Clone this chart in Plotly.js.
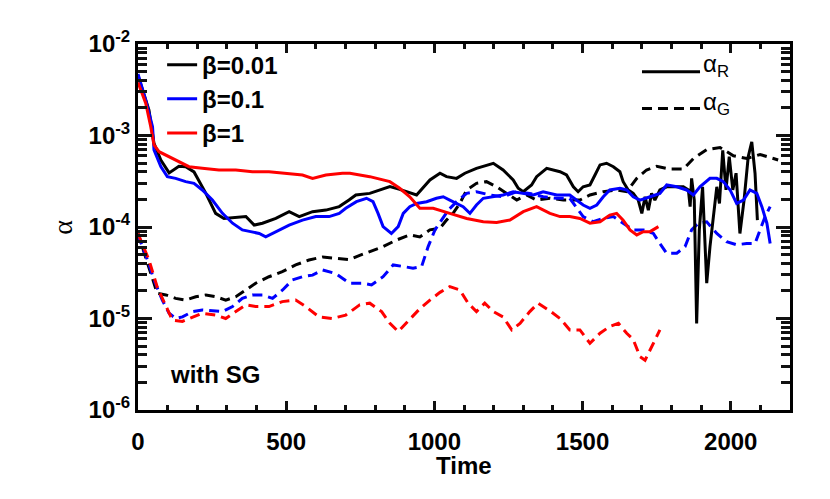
<!DOCTYPE html>
<html>
<head>
<meta charset="utf-8">
<script src="https://cdn.plot.ly/plotly-3.0.1.min.js"></script>
<style>html,body{margin:0;padding:0;background:#fff;}#chart{width:830px;height:499px;}</style>
</head>
<body>
<div id="chart"></div>
<script>
// ---------- data ----------
// beta = 0.01, alpha_R (solid black)
const t_b001_R = [0,37,54,77,105,138,161,189,229,262,290,364,392,420,465,510,544,589,634,679,712,735,782,850,883,940,985,1019,1041,1075,1103,1142,1199,1232,1266,1283,1300,1328,1345,1379,1424,1446,1469,1485,1502,1525,1542,1559,1581,1604,1626,1637,1654,1671,1688,1700,1711,1722,1733,1744,1761,1784,1812,1840,1857,1863,1868,1877,1885,1894,1905,1919,1930,1941,1953,1962,1973,1984,1995,2007,2018,2031,2045,2059,2071,2082,2090];
const a_b001_R = [4.5e-3,1.9e-3,8.2e-4,5.4e-4,3.9e-4,4.6e-4,4.55e-4,4.0e-4,2.33e-4,1.41e-4,1.24e-4,1.30e-4,1.05e-4,1.10e-4,1.24e-4,1.47e-4,1.30e-4,1.47e-4,1.53e-4,1.67e-4,1.97e-4,2.24e-4,2.33e-4,2.76e-4,2.58e-4,2.24e-4,3.27e-4,3.87e-4,3.55e-4,3.40e-4,3.87e-4,4.38e-4,4.97e-4,4.20e-4,3.27e-4,2.65e-4,2.43e-4,2.88e-4,3.55e-4,4.38e-4,4.02e-4,3.7e-4,2.75e-4,2.43e-4,2.75e-4,2.88e-4,3.7e-4,4.77e-4,4.97e-4,4.56e-4,4.02e-4,3.13e-4,2.54e-4,2.33e-4,1.97e-4,1.41e-4,2.14e-4,1.53e-4,2.33e-4,1.97e-4,2.54e-4,2.75e-4,2.75e-4,2.75e-4,2.54e-4,1.67e-4,3.4e-4,1.97e-4,8.85e-6,9.3e-5,2.75e-4,2.43e-5,6.1e-5,1.30e-4,2.75e-4,1.81e-4,6.9e-4,2.54e-4,5.86e-4,2.54e-4,3.87e-4,8.5e-5,1.97e-4,5.86e-4,8.5e-4,3.87e-4,1.19e-4];

// beta = 0.1, alpha_R (solid blue)
const t_b01_R = [0,26,49,54,77,99,127,161,189,217,251,285,319,352,380,409,431,465,510,555,600,645,679,701,737,771,793,810,827,855,878,895,917,940,974,1007,1030,1052,1097,1120,1142,1165,1199,1232,1266,1300,1334,1367,1413,1457,1480,1502,1525,1548,1570,1592,1626,1649,1671,1694,1728,1761,1784,1818,1851,1874,1896,1930,1953,1975,1998,2020,2043,2065,2088,2105,2122,2133];
const a_b01_R = [4.7e-3,2.44e-3,1.25e-3,6.95e-4,4.57e-4,3.55e-4,3.4e-4,3.13e-4,3.0e-4,2.54e-4,1.97e-4,1.41e-4,1.10e-4,9.3e-5,8.9e-5,8.5e-5,7.8e-5,8.9e-5,1.05e-4,1.19e-4,1.30e-4,1.30e-4,1.41e-4,1.60e-4,1.89e-4,2.06e-4,1.89e-4,1.41e-4,1.01e-4,8.5e-5,1.01e-4,1.41e-4,1.67e-4,1.81e-4,1.89e-4,2.06e-4,2.14e-4,1.97e-4,1.67e-4,1.41e-4,1.74e-4,2.06e-4,2.14e-4,2.24e-4,2.43e-4,2.33e-4,2.24e-4,2.43e-4,2.24e-4,2.24e-4,1.97e-4,1.74e-4,1.60e-4,1.74e-4,2.14e-4,2.54e-4,2.65e-4,2.54e-4,2.14e-4,1.97e-4,2.14e-4,2.33e-4,2.88e-4,2.75e-4,2.54e-4,2.24e-4,2.75e-4,3.4e-4,3.4e-4,3.13e-4,2.54e-4,1.81e-4,1.97e-4,2.54e-4,2.33e-4,1.67e-4,1.10e-4,6.6e-5];

// beta = 1, alpha_R (solid red)
const t_b1_R = [0,26,43,54,71,105,138,172,217,273,330,386,442,499,555,589,634,690,715,782,850,883,917,951,996,1052,1109,1165,1210,1255,1300,1345,1390,1424,1457,1491,1525,1559,1592,1615,1637,1660,1683,1705,1728,1756];
const a_b1_R = [3.8e-3,2.25e-3,1.25e-3,7.9e-4,6.65e-4,5.86e-4,5.17e-4,4.56e-4,4.38e-4,4.2e-4,4.2e-4,4.02e-4,4.02e-4,3.87e-4,3.7e-4,3.4e-4,3.7e-4,3.87e-4,3.87e-4,3.55e-4,3.13e-4,2.65e-4,2.14e-4,1.60e-4,1.60e-4,1.41e-4,1.24e-4,1.14e-4,1.12e-4,1.19e-4,1.47e-4,1.67e-4,1.41e-4,1.30e-4,1.30e-4,1.24e-4,1.10e-4,1.14e-4,1.35e-4,1.41e-4,1.19e-4,9.3e-5,8.2e-5,8.9e-5,8.9e-5,1.01e-4];

// beta = 0.01, alpha_G (dashed black)
const t_b001_G = [0,26,49,65,94,127,161,195,229,262,296,330,364,397,442,487,532,577,623,667,714,748,782,827,872,917,951,985,1019,1041,1063,1086,1109,1142,1176,1210,1244,1278,1311,1345,1390,1435,1491,1525,1570,1615,1649,1683,1716,1750,1795,1840,1874,1919,1964,2009,2054,2099,2144,2160];
const a_b001_G = [8.5e-5,4.7e-5,2.86e-5,1.88e-5,1.81e-5,1.66e-5,1.59e-5,1.73e-5,1.81e-5,1.73e-5,1.59e-5,1.73e-5,2.05e-5,2.43e-5,2.86e-5,3.25e-5,3.85e-5,4.36e-5,4.7e-5,4.55e-5,4.4e-5,4.9e-5,5.37e-5,6.1e-5,7.2e-5,8.2e-5,7.8e-5,9.3e-5,9.7e-5,1.19e-4,1.41e-4,1.81e-4,2.54e-4,3.0e-4,3.13e-4,2.75e-4,2.33e-4,1.97e-4,2.24e-4,1.97e-4,2.06e-4,1.97e-4,1.97e-4,2.24e-4,2.43e-4,2.54e-4,2.43e-4,3.4e-4,4.2e-4,4.6e-4,4.3e-4,4.3e-4,5.6e-4,7.0e-4,7.4e-4,6.0e-4,5.6e-4,6.2e-4,5.6e-4,5.4e-4];

// beta = 0.1, alpha_G (dashed blue)
const t_b01_G = [0,32,54,82,105,127,150,184,217,251,285,319,352,386,420,454,488,521,555,589,623,667,714,760,788,827,861,895,928,957,979,1002,1024,1047,1075,1109,1142,1187,1232,1278,1322,1367,1413,1457,1502,1536,1570,1604,1637,1671,1705,1739,1761,1784,1818,1846,1868,1891,1919,1953,1986,2020,2054,2082,2099,2116,2133];
const a_b01_G = [8.2e-5,4.36e-5,2.64e-5,1.59e-5,1.14e-5,1.0e-5,1.04e-5,1.19e-5,1.24e-5,1.21e-5,1.19e-5,1.35e-5,1.66e-5,1.81e-5,1.81e-5,1.66e-5,2.05e-5,2.64e-5,2.86e-5,2.98e-5,3.39e-5,3.1e-5,2.43e-5,2.43e-5,2.33e-5,2.86e-5,3.85e-5,3.7e-5,3.55e-5,3.7e-5,6.1e-5,9.3e-5,1.19e-4,1.53e-4,1.89e-4,2.33e-4,2.43e-4,2.24e-4,2.14e-4,2.43e-4,2.33e-4,2.14e-4,2.06e-4,2.06e-4,1.30e-4,1.14e-4,1.24e-4,1.30e-4,1.10e-4,9.3e-5,9.3e-5,8.5e-5,6.6e-5,5.16e-5,5.16e-5,6.1e-5,9.3e-5,1.10e-4,1.14e-4,8.5e-5,6.9e-5,6.4e-5,6.6e-5,6.6e-5,9.3e-5,1.30e-4,1.67e-4];

// beta = 1, alpha_G (dashed red)
const t_b1_G = [0,37,65,94,116,150,184,217,262,296,330,364,397,442,487,532,566,611,656,701,748,782,822,850,878,912,951,985,1019,1052,1086,1114,1142,1170,1199,1232,1261,1289,1322,1350,1390,1424,1457,1491,1525,1559,1592,1621,1649,1671,1694,1711,1733,1761];
const a_b1_G = [8.5e-5,4.36e-5,2.2e-5,1.35e-5,9.6e-6,9.3e-6,1.04e-5,1.14e-5,1.09e-5,1.0e-5,1.19e-5,1.41e-5,1.35e-5,1.35e-5,1.53e-5,1.59e-5,1.35e-5,1.04e-5,1.0e-5,1.09e-5,1.41e-5,1.47e-5,1.19e-5,8.85e-6,7.2e-6,9.3e-6,1.28e-5,1.59e-5,1.93e-5,2.23e-5,2.05e-5,1.47e-5,1.19e-5,1.47e-5,1.19e-5,1.04e-5,7.5e-6,8.85e-6,1.19e-5,1.47e-5,1.21e-5,1.0e-5,7.5e-6,7.5e-6,5.36e-6,6.9e-6,8.2e-6,8.85e-6,6.9e-6,5.9e-6,3.82e-6,3.5e-6,4.9e-6,7.5e-6];

// labels
const betaNames = ['β=0.01', 'β=0.1', 'β=1'];
const yTickVals = [1e-6, 1e-5, 1e-4, 1e-3, 1e-2];
const yTickText = ['10<sup>-6</sup>', '10<sup>-5</sup>', '10<sup>-4</sup>', '10<sup>-3</sup>', '10<sup>-2</sup>'];
const alphaLabels = ['α<sub>R</sub>', 'α<sub>G</sub>'];
const xTitle = 'Time';
const yTitle = 'α';

// ---------- styling ----------
const colors = ['#000000', '#0000ff', '#ff0000'];
const LW = 3;
const DASH = '10px,6px';
const sans = 'Liberation Sans, Arial, Helvetica, sans-serif';

const solid = [[t_b001_R, a_b001_R], [t_b01_R, a_b01_R], [t_b1_R, a_b1_R]];
const dashed = [[t_b001_G, a_b001_G], [t_b01_G, a_b01_G], [t_b1_G, a_b1_G]];

const traces = [];
// carriers for the minor-tick overlay axes (no visible marks)
traces.push({x: [null], y: [null], xaxis: 'x', yaxis: 'y2', type: 'scatter', mode: 'lines', showlegend: false});
traces.push({x: [null], y: [null], xaxis: 'x2', yaxis: 'y', type: 'scatter', mode: 'lines', showlegend: false});
dashed.forEach((d, i) => {
  traces.push({x: d[0], y: d[1], type: 'scatter', mode: 'lines', showlegend: false,
    name: betaNames[i] + ' αG', line: {color: colors[i], width: LW, dash: DASH}});
});
solid.forEach((d, i) => {
  traces.push({x: d[0], y: d[1], type: 'scatter', mode: 'lines', showlegend: true,
    name: betaNames[i], line: {color: colors[i], width: LW}});
});

// minor tick positions (axis decoration, not data)
const yMinor = [];
for (let k = -6; k < -2; k++) for (let m = 2; m <= 9; m++) yMinor.push(m * Math.pow(10, k));
const xMinor = [];
for (let v = 100; v < 2200; v += 100) if (v % 500 !== 0) xMinor.push(v);

const tickFont = {family: sans, size: 24, weight: 'bold', color: '#000'};
const TICKC = '#111111';

const layout = {
  width: 830, height: 499,
  margin: {l: 138, r: 40, t: 44, b: 89, pad: 0},
  paper_bgcolor: '#fff', plot_bgcolor: '#fff',
  showlegend: true,
  legend: {x: 0.037, y: 1.004, xanchor: 'left', yanchor: 'top', bgcolor: 'rgba(0,0,0,0)',
    borderwidth: 0, itemwidth: 30, traceorder: 'normal',
    font: {family: sans, size: 24, weight: 'bold', color: '#000'}},
  xaxis: {
    range: [0, 2200], showgrid: false, zeroline: false,
    showline: true, linecolor: '#000', linewidth: 3, mirror: 'ticks',
    ticks: 'inside', ticklen: 9, tickwidth: 3, tickcolor: TICKC,
    tick0: 0, dtick: 500, tickfont: tickFont, ticklabelstandoff: 8
  },
  yaxis: {
    type: 'log', range: [-6, -2], showgrid: false, zeroline: false,
    showline: true, linecolor: '#000', linewidth: 3, mirror: 'ticks',
    ticks: 'inside', ticklen: 14, tickwidth: 3, tickcolor: TICKC,
    tickmode: 'array', tickvals: yTickVals, ticktext: yTickText,
    tickfont: tickFont
  },
  xaxis2: {
    overlaying: 'x', anchor: 'y', side: 'bottom', range: [0, 2200], showgrid: false, zeroline: false, showline: false,
    mirror: 'ticks', ticks: 'inside', ticklen: 5, tickwidth: 3, tickcolor: TICKC,
    tickmode: 'array', tickvals: xMinor, showticklabels: false
  },
  yaxis2: {
    overlaying: 'y', anchor: 'x', side: 'left', type: 'log', range: [-6, -2], showgrid: false, zeroline: false, showline: false,
    mirror: 'ticks', ticks: 'inside', ticklen: 9, tickwidth: 3, tickcolor: TICKC,
    tickmode: 'array', tickvals: yMinor, showticklabels: false
  },
  shapes: [
    {type: 'line', xref: 'paper', yref: 'paper', x0: 0.773, x1: 0.862, y0: 0.924, y1: 0.924,
      line: {color: '#000', width: LW}},
    {type: 'line', xref: 'paper', yref: 'paper', x0: 0.773, x1: 0.862, y0: 0.824, y1: 0.824,
      line: {color: '#000', width: LW, dash: DASH}}
  ],
  annotations: [
    {text: xTitle, xref: 'paper', yref: 'paper', x: 0.5, y: -0.153, xanchor: 'center', yanchor: 'middle',
      showarrow: false, font: {family: sans, size: 24, weight: 'bold', color: '#000'}},
    {text: yTitle, xref: 'paper', yref: 'paper', x: -0.117, y: 0.5, xanchor: 'center', yanchor: 'middle',
      textangle: -90, showarrow: false, font: {family: 'Liberation Serif, serif', size: 28, color: '#000'}},
    {text: alphaLabels[0], xref: 'paper', yref: 'paper', x: 0.864, y: 0.94, xanchor: 'left', yanchor: 'middle',
      showarrow: false, font: {family: sans, size: 24, color: '#000'}},
    {text: alphaLabels[1], xref: 'paper', yref: 'paper', x: 0.864, y: 0.838, xanchor: 'left', yanchor: 'middle',
      showarrow: false, font: {family: sans, size: 24, color: '#000'}},
    {text: 'with SG', xref: 'paper', yref: 'paper', x: 0.046, y: 0.096, xanchor: 'left', yanchor: 'middle',
      showarrow: false, font: {family: sans, size: 24, weight: 'bold', color: '#000'}}
  ]
};

Plotly.newPlot('chart', traces, layout, {displayModeBar: false, staticPlot: true});
</script>
</body>
</html>
